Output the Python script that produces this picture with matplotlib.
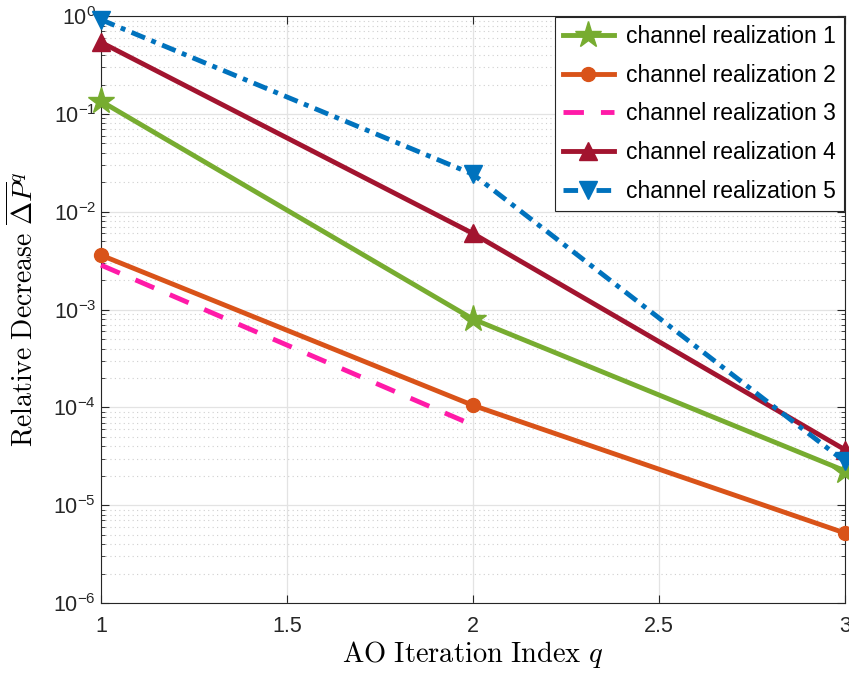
import matplotlib.pyplot as plt
import numpy as np

plt.rcParams['mathtext.fontset'] = 'cm'
plt.rcParams['mathtext.rm'] = 'Liberation Sans'
plt.rcParams['mathtext.it'] = 'Liberation Sans:italic'
plt.rcParams['mathtext.bf'] = 'Liberation Sans:bold'
plt.rcParams['font.family'] = ['Liberation Sans', 'DejaVu Sans']

# iteration index and relative decrease for each channel realization
q = [1, 2, 3]
real1 = [0.135, 8.0e-4, 2.25e-5]
real2 = [3.6e-3, 1.05e-4, 5.2e-6]
real3 = [2.85e-3, 6.6e-5, np.nan]
real4 = [0.54, 6.0e-3, 3.7e-5]
real5 = [0.92, 0.0242, 2.8e-5]
labels = ['channel realization 1', 'channel realization 2', 'channel realization 3',
          'channel realization 4', 'channel realization 5']

fig = plt.figure(figsize=(8.49, 6.73), dpi=100)
ax = fig.add_axes([0.119, 0.104, 0.876, 0.872])

lw = 3.5
ax.plot(q, real1, '-', color='#77AC30', lw=lw, marker='*', ms=20, label=labels[0], clip_on=False, zorder=3)
ax.plot(q, real2, '-', color='#D95319', lw=lw, marker='o', ms=10, label=labels[1], clip_on=False, zorder=3)
ax.plot(q, real3, color='#FF1AA8', lw=lw, dashes=(4.2, 3.5), label=labels[2], clip_on=False, zorder=3)
ax.plot(q, real4, '-', color='#A2142F', lw=lw, marker='^', ms=13, label=labels[3], clip_on=False, zorder=3)
ax.plot(q, real5, color='#0072BD', lw=lw, dashes=(3, 1.4, 1, 1.4), marker='v', ms=13,
        label=labels[4], clip_on=False, zorder=3)

ax.set_yscale('log')
ax.set_xlim(1, 3)
ax.set_ylim(1e-6, 1)
ax.set_xticks([1, 1.5, 2, 2.5, 3])
ax.set_xticklabels(['1', '1.5', '2', '2.5', '3'])
ax.set_yticks([10.0 ** k for k in range(-6, 1)])
ax.set_yticklabels([r'$\mathrm{10^{%d}}$' % k for k in range(-6, 1)], math_fontfamily='custom')

ax.grid(True, which='major', color='#e3e3e3', lw=0.9, ls='-')
ax.grid(True, which='minor', axis='y', color='#cfcfcf', lw=0.8, ls=(0, (1, 3)))
ax.tick_params(which='both', direction='in', top=True, right=True, labelsize=15.5, colors='#262626')
ax.tick_params(axis='x', pad=9)
ax.tick_params(which='major', length=6)
ax.tick_params(which='minor', length=3)
for s in ax.spines.values():
    s.set_color('#262626')
    s.set_linewidth(0.8)

ax.set_xlabel(r'$\mathrm{AO\ Iteration\ Index}\ q$', fontsize=20.5, labelpad=2, math_fontfamily='cm')
ax.set_ylabel(r'$\mathrm{Relative\ Decrease}\ \overline{\Delta P}^{q}$', fontsize=20, labelpad=4,
              math_fontfamily='cm')
ax.yaxis.set_label_coords(-0.084, 0.5)

leg = ax.legend(loc='upper right', fontsize=16.5, fancybox=False, framealpha=1,
                edgecolor='#262626', borderaxespad=0.05, handlelength=2.25, handletextpad=0.5,
                labelspacing=0.68, borderpad=0.35)
leg.get_frame().set_linewidth(0.8)

fig.savefig('out.png', dpi=100)
